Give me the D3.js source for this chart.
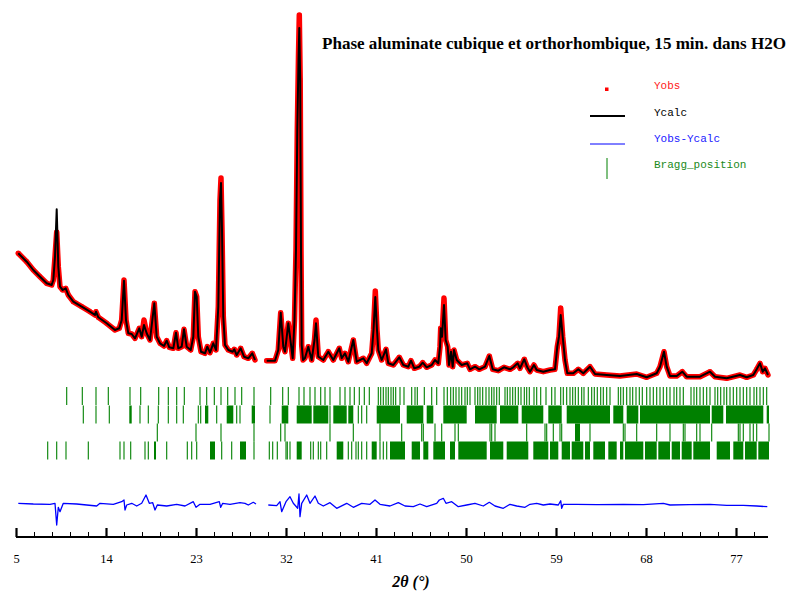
<!DOCTYPE html>
<html><head><meta charset="utf-8">
<script src="https://cdn.jsdelivr.net/npm/d3@7"></script>
<style>body{margin:0;background:#fff}svg{display:block}</style>
</head><body>
<svg id="chart" width="788" height="594"></svg>
<script>
// ---------- data ----------
const twoTheta = [5.23,6.07,6.73,7.4,8.07,8.57,8.73,8.9,9.07,9.23,9.4,9.67,9.97,10.23,10.73,11.57,12.4,12.9,13.0,13.23,14.07,14.9,15.33,15.57,15.8,16.0,16.23,16.57,16.9,17.33,17.57,17.8,18.07,18.4,18.83,19.07,19.4,19.8,20.07,20.33,20.73,21.0,21.23,21.57,21.8,22.07,22.47,22.73,22.9,23.07,23.23,23.5,23.9,24.13,24.4,24.73,25.0,25.23,25.4,25.5,25.6,25.73,25.9,26.23,26.67,26.83,27.07,27.47,27.8,28.23,28.63,28.9,
30.07,30.9,31.23,31.47,31.73,31.9,32.23,32.4,32.67,32.85,33.0,33.13,33.25,33.33,33.42,33.5,33.57,33.7,33.9,34.23,34.57,34.85,35.0,35.23,35.73,36.23,36.73,37.33,37.57,37.9,38.23,38.73,39.07,39.73,40.07,40.57,40.75,40.93,41.1,41.23,41.57,42.0,42.23,42.73,43.33,43.73,44.23,44.5,44.83,45.33,45.67,46.07,46.57,46.9,47.23,47.4,47.47,47.6,47.8,47.97,48.17,48.3,48.5,48.67,48.8,49.07,49.57,50.13,50.4,50.9,51.33,51.9,52.33,52.67,53.23,53.8,54.4,54.73,55.17,55.4,55.83,56.13,56.4,56.8,57.07,57.73,58.4,58.9,59.13,59.3,59.47,59.67,59.9,60.13,60.73,61.23,61.73,62.4,62.9,64.07,65.4,67.07,68.07,69.07,69.4,69.8,70.07,70.4,71.07,71.63,72.07,73.4,74.4,74.9,76.07,77.4,78.07,78.73,79.07,79.4,79.67,79.9,80.2];
const yObs = [2834,2666,2500,2366,2234,2200,2300,2766,3260,2566,2166,2100,2134,2000,1866,1766,1666,1600,1666,1554,1434,1300,1334,1500,2300,1500,1234,1220,1134,1334,1166,1500,1234,1100,1834,1166,1034,980,1086,954,934,1246,934,966,1314,966,900,1166,2066,1966,1166,866,834,966,846,1034,900,1766,3900,4340,3300,1566,1000,900,866,914,800,934,766,734,834,700,
686,686,900,1646,966,866,1434,1166,734,1500,2900,5300,6800,7600,6300,2900,1000,700,740,966,700,1100,1500,766,700,866,700,934,734,834,666,1100,666,734,634,834,1300,2080,1300,900,700,914,634,600,754,600,566,686,534,566,646,554,600,700,634,966,1334,1166,1940,1100,966,600,866,566,900,700,600,634,514,566,514,566,780,514,486,554,514,554,634,534,714,554,466,600,500,466,500,514,966,1166,1740,1166,700,434,434,514,434,566,420,400,380,420,354,434,566,866,566,380,380,466,366,366,466,366,334,400,354,400,514,634,466,534,400];
const yCalc = [2834,2666,2500,2366,2234,2200,2300,2766,3714,2566,2166,2100,2134,2000,1866,1766,1666,1600,1666,1554,1434,1300,1334,1500,2286,1500,1234,1220,1134,1334,1166,1400,1234,1100,1834,1166,1034,980,1086,954,934,1246,934,966,1314,966,900,1166,2066,1966,1166,866,834,966,846,1034,900,1766,3900,4240,3300,1566,1000,900,866,914,800,934,766,734,834,700,
686,686,900,1646,966,866,1434,1166,734,1500,2900,5300,6700,7340,6300,2900,1000,700,740,966,700,1100,1434,766,700,866,700,934,734,834,666,1100,666,734,634,834,1300,1960,1300,900,700,914,634,600,754,600,566,686,534,566,646,554,600,700,634,966,1334,1166,1800,1100,966,600,866,566,900,700,600,634,514,566,514,566,780,514,486,554,514,554,634,534,714,554,466,600,500,466,500,514,966,1166,1600,1166,700,434,434,514,434,566,420,400,380,420,354,434,566,866,566,380,380,466,366,366,466,366,334,400,354,400,514,634,466,534,400];
const diffTheta = [5.23,6.73,8.4,8.9,9.07,9.23,9.4,9.73,11.07,12.07,13.07,13.4,14.73,15.57,15.8,15.9,16.07,16.57,17.07,17.57,18.0,18.33,18.67,18.9,19.13,20.07,21.07,21.9,22.73,23.0,23.4,24.4,25.33,25.47,25.67,26.4,27.4,27.9,28.23,28.73,29.0,
30.23,31.07,31.4,31.57,32.0,32.4,32.73,33.17,33.3,33.4,33.57,34.07,34.4,34.9,35.23,35.73,36.4,37.07,38.07,38.73,39.57,40.4,40.9,41.4,42.4,43.23,43.9,44.73,45.4,46.07,47.07,47.33,47.73,48.0,48.57,49.23,50.07,50.9,51.73,52.33,52.9,53.73,54.4,55.07,55.9,56.4,57.07,57.73,58.4,59.23,59.47,59.57,59.73,61.07,63.07,65.73,67.73,69.73,70.4,72.4,74.4,76.07,77.73,79.07,80.13];
const diffValue = [14,0,-6,14,-420,-66,-154,14,0,-20,-40,14,-6,46,80,-120,-20,14,-40,14,180,14,26,-120,-20,-40,-6,-40,46,-66,-6,-6,46,-66,14,-6,26,14,-20,34,0,
-20,-34,46,-154,46,146,14,-86,200,-254,14,180,14,160,14,-40,26,-86,14,-66,14,-6,80,-6,-40,26,-40,-54,0,-54,14,80,114,14,46,-54,-20,14,-40,34,-40,-86,-6,-40,-66,-6,14,-20,0,-20,66,-86,-6,-6,-14,-6,-14,14,-20,-14,-6,-26,-26,-40,-54];
const excludedRegion = [29.05, 30.0];

const braggCubic = [10.07,11.63,13.0,14.23,16.4,17.47,19.27,20.23,21.07,21.83,23.4,24.07,24.83,25.5,26.17,26.9,27.57,28.8,30.47,31.67,32.23,33.3,33.8,34.4,34.9,35.47,35.9,36.4,37.4,37.9,38.4,38.83,39.33,39.83,40.33,41.23,41.47,41.73,42.0,42.23,42.5,42.73,42.97,43.4,43.8,44.57,44.9,45.13,45.83,46.57,47.07,47.8,48.13,48.47,48.73,49.0,49.3,49.57,49.9,50.13,50.4,50.9,51.17,51.4,51.67,52.0,52.3,52.57,52.8,53.07,53.33,53.9,54.13,54.4,54.67,54.93,55.23,55.5,55.83,56.07,56.33,56.8,57.07,57.47,58.0,58.57,58.9,59.47,59.73,60.07,60.4,60.67,60.93,61.23,61.57,61.8,62.23,62.57,62.83,63.13,63.47,63.73,64.07,64.4,65.23,65.47,65.73,66.07,66.4,66.67,67.0,67.33,67.63,68.07,68.4,68.73,69.07,69.4,69.73,70.07,70.4,70.8,71.07,71.4,71.73,72.5,72.8,73.07,73.4,73.73,74.07,74.4,74.9,75.17,75.47,75.8,76.07,76.4,76.73,77.07,77.4,77.73,78.07,78.4,78.8,79.07,79.4,79.73,80.07];
const braggCubicBands = [];
const braggOrtho = [11.73,13.0,14.33,17.4,18.23,19.23,20.23,21.07,21.73,23.23,23.47,25.07,27.07,27.4,30.4,36.4,39.23,39.57,40.07];
const braggOrthoBands = [[16.33,16.57],[23.9,24.23],[26.07,26.73],[28.57,28.9],[31.57,32.23],[33.07,34.57],[34.73,36.23],[36.73,38.07],[38.23,38.73],[41.07,43.4],[44.07,45.73],[46.07,46.73],[47.73,50.07],[50.9,53.07],[53.4,55.23],[55.57,57.73],[58.23,59.57],[60.07,64.4],[64.73,65.73],[66.07,67.23],[67.4,74.4],[74.57,75.73],[76.0,79.73],[80.07,80.3]];
const braggPhase3 = [19.13,23.0,25.5,28.8,31.47,31.9,36.4,38.73,41.4,43.57,45.57,45.73,46.9,47.57,48.9,49.23,52.4,52.57,52.9,56.07,57.9,58.07,58.73,59.4,59.57,62.4,65.73,65.9,67.07,69.07,70.4,71.73,71.9,73.07,73.4,74.57,77.23,77.4,77.73,78.4,78.73,79.07,80.3];
const braggPhase3Bands = [[60.9,61.4]];
const braggPhase4 = [8.17,9.07,10.0,12.23,15.4,15.8,16.47,17.9,18.23,20.07,22.13,22.57,23.07,25.57,26.57,28.8,30.33,30.67,31.13,32.0,32.13,32.4,34.47,34.73,35.23,35.47,36.07,38.23,38.57,39.0,39.23,39.57,40.07,41.4,41.73,42.07];
const braggPhase4Bands = [[18.8,19.0],[24.4,24.9],[27.4,28.0],[33.07,33.57],[37.07,37.73],[40.57,41.07],[42.4,43.9],[44.57,45.4],[45.73,46.23],[46.73,47.9],[48.4,48.9],[49.23,52.07],[52.4,53.73],[54.07,56.23],[56.73,58.23],[58.4,59.23],[59.57,60.4],[60.57,61.73],[61.9,62.4],[62.73,63.9],[64.23,65.07],[65.4,65.73],[65.9,67.73],[67.9,69.07],[69.23,70.4],[70.57,71.4],[71.57,72.57],[72.73,74.4],[75.07,76.4],[76.73,77.73],[77.9,79.07],[79.23,80.3]];

const xTickValues = [5,14,23,32,41,50,59,68,77];
const legendLabels = ["Yobs","Ycalc","Yobs-Ycalc","Bragg_position"];
const titleText = "Phase aluminate cubique et orthorhombique, 15 min. dans H2O";
const xTitle = "2\u03b8 (\u00b0)";

// ---------- drawing ----------
const svg = d3.select("#chart");
const x = d3.scaleLinear().domain([5, 80.2]).range([16, 768]);
const y = d3.scaleLinear().domain([0, 7600]).range([395, 15]);
const diffOffset = -2180;

const pts = twoTheta.map((t, i) => ({t, o: yObs[i], c: yCalc[i]}));
const segs = [pts.filter(d => d.t < excludedRegion[0]), pts.filter(d => d.t > excludedRegion[1])];
const dpts = diffTheta.map((t, i) => ({t, v: diffValue[i]}));
const dsegs = [dpts.filter(d => d.t < excludedRegion[0] + 0.01), dpts.filter(d => d.t > excludedRegion[1])];

const lineObs = d3.line().x(d => x(d.t)).y(d => y(d.o));
const lineCalc = d3.line().x(d => x(d.t)).y(d => y(d.c));
const lineDiff = d3.line().x(d => x(d.t)).y(d => y(d.v + diffOffset));

// Yobs (dense red points -> red band)
svg.append("g").selectAll("path").data(segs).join("path")
  .attr("d", lineObs).attr("fill", "none").attr("stroke", "#ff0000")
  .attr("stroke-width", 5.5).attr("stroke-linejoin", "round").attr("stroke-linecap", "round");
svg.append("g").selectAll("rect").data(pts).join("rect")
  .attr("x", d => x(d.t) - 2).attr("y", d => y(d.o) - 2).attr("width", 4).attr("height", 4)
  .attr("fill", "#ff0000");
// Ycalc
svg.append("g").selectAll("path").data(segs).join("path")
  .attr("d", lineCalc).attr("fill", "none").attr("stroke", "#000")
  .attr("stroke-width", 2).attr("stroke-linejoin", "round");

// Bragg positions
const rows = [
  {ticks: braggCubic, bands: braggCubicBands, y0: 387},
  {ticks: braggOrtho, bands: braggOrthoBands, y0: 405.5},
  {ticks: braggPhase3, bands: braggPhase3Bands, y0: 423.5},
  {ticks: braggPhase4, bands: braggPhase4Bands, y0: 441.5}
];
const rowH = 18;
const gB = svg.append("g").attr("fill", "#008000").attr("stroke", "#008000");
rows.forEach(r => {
  gB.append("g").selectAll("line").data(r.ticks).join("line")
    .attr("x1", d => x(d)).attr("x2", d => x(d))
    .attr("y1", r.y0).attr("y2", r.y0 + rowH).attr("stroke-width", 1.1);
  gB.append("g").selectAll("rect").data(r.bands).join("rect")
    .attr("x", d => x(d[0])).attr("width", d => Math.max(1, x(d[1]) - x(d[0])))
    .attr("y", r.y0).attr("height", rowH).attr("stroke", "none");
});

// difference curve
svg.append("g").selectAll("path").data(dsegs).join("path")
  .attr("d", lineDiff).attr("fill", "none").attr("stroke", "#0000ff")
  .attr("stroke-width", 1.3).attr("stroke-linejoin", "round");

// x axis
const axisY = 537;
const gAxis = svg.append("g").attr("transform", `translate(0,${axisY})`);
const minorVals = [];
xTickValues.forEach(v => { for (let k = 1; k <= 4; k++) { const m = v + k * 1.8; if (m < 80) minorVals.push(m); } });
gAxis.append("g").call(d3.axisBottom(x).tickValues(minorVals).tickSizeInner(-5).tickSizeOuter(0).tickFormat(""))
  .call(g => g.select(".domain").remove())
  .call(g => g.selectAll(".tick line").attr("stroke", "#000").attr("stroke-width", 1));
gAxis.append("g").call(d3.axisBottom(x).tickValues(xTickValues).tickSizeInner(-9).tickSizeOuter(0).tickPadding(17).tickFormat(d3.format("d")))
  .call(g => g.select(".domain").attr("stroke", "#000").attr("stroke-width", 2.2).attr("d", `M${x(5)},0H${x(80.2)}`))
  .call(g => g.selectAll(".tick line").attr("stroke", "#000").attr("stroke-width", 2.2))
  .call(g => g.selectAll(".tick text").attr("font-family", "'Liberation Serif', serif").attr("font-size", 12.5).attr("fill", "#000"));

svg.append("text").attr("x", 411).attr("y", 587).attr("text-anchor", "middle")
  .attr("font-family", "'Liberation Serif', serif").attr("font-weight", "bold").attr("font-style", "italic")
  .attr("font-size", 16).text(xTitle);

// title
svg.append("text").attr("x", 322).attr("y", 48.5)
  .attr("font-family", "'Liberation Serif', serif").attr("font-weight", "bold")
  .attr("font-size", 16.5).attr("textLength", 464).attr("lengthAdjust", "spacingAndGlyphs")
  .text(titleText);

// legend
const gL = svg.append("g").attr("font-family", "'Liberation Mono', monospace").attr("font-size", 11);
gL.append("rect").attr("x", 605).attr("y", 87.5).attr("width", 3.5).attr("height", 3.5).attr("fill", "#ff0000");
gL.append("line").attr("x1", 590).attr("x2", 625).attr("y1", 116).attr("y2", 116).attr("stroke", "#000").attr("stroke-width", 2);
gL.append("line").attr("x1", 590).attr("x2", 625).attr("y1", 144).attr("y2", 144).attr("stroke", "#0000ff").attr("stroke-width", 1);
gL.append("line").attr("x1", 607).attr("x2", 607).attr("y1", 158).attr("y2", 179).attr("stroke", "#008000").attr("stroke-width", 1);
const legColors = ["#ff2020", "#000", "#2020ff", "#1a8a1a"];
const legY = [89, 115.5, 142, 168];
gL.selectAll("text").data(legendLabels).join("text")
  .attr("x", 654).attr("y", (d, i) => legY[i]).attr("fill", (d, i) => legColors[i]).text(d => d);
</script>
</body></html>
